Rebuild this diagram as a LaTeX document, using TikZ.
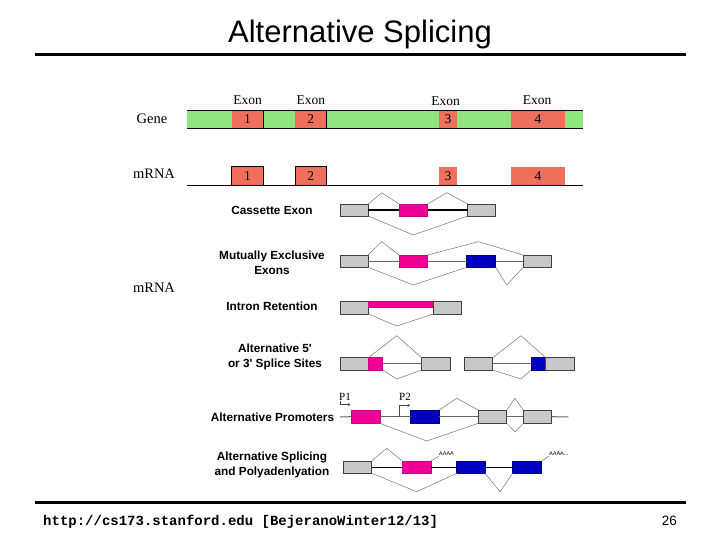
\documentclass[tikz,border=0pt]{standalone}
\usepackage{fontspec}
\setmainfont{Liberation Serif}
\setsansfont{Liberation Sans}
\setmonofont{Liberation Mono}
\newfontfamily\labfont{Liberation Sans}
\usetikzlibrary{arrows.meta}
\definecolor{genegreen}{RGB}{145,228,128}
\definecolor{salmon}{RGB}{238,112,92}
\definecolor{pinkx}{RGB}{240,0,150}
\definecolor{bluex}{RGB}{0,0,190}
\definecolor{boxgrey}{RGB}{200,200,200}
\newcommand\bx[7]{\node[#2, anchor=north west, minimum width={(#5-#3)*1pt}, minimum height={(#6-#4)*1pt}] (#1) at (#3,#4) {#7};}
\tikzset{
  box/.style={inner sep=0pt, outer sep=0pt, line width=0.6pt},
  greyb/.style={box, draw=black!75, fill=boxgrey},
  pinkb/.style={box, draw=pinkx!85!black, fill=pinkx},
  blueb/.style={box, draw=bluex!70!black, fill=bluex},
  exonb/.style={box, fill=salmon, font=\fontsize{13.5}{13.5}\selectfont},
  exonbd/.style={exonb, draw=black},
  splice/.style={draw=black!55, line width=0.5pt},
  bbk/.style={draw=black, line width=1.3pt},
  bgr/.style={draw=black!60, line width=1pt},
  lab/.style={font=\labfont\bfseries\fontsize{11.8}{15}\selectfont, align=center, inner sep=0pt},
  serlab/.style={font=\fontsize{13.5}{13.5}\selectfont, inner sep=0pt},
  promo/.style={font=\fontsize{11}{11}\selectfont, inner sep=0pt, anchor=base west},
  poly/.style={font=\sffamily\fontsize{5.5}{6}\selectfont, inner sep=0pt, anchor=west},
  parrow/.style={draw=black!70, line width=0.5pt, -{Straight Barb[length=2pt,width=3pt]}},
  rule/.style={line width=3pt}
}
\begin{document}
\begin{tikzpicture}[x=1pt,y=-1pt]
\useasboundingbox (0,0) rectangle (720,540);
% title and rules
\node[font=\sffamily\fontsize{31}{31}\selectfont, anchor=base, inner sep=0pt] (title) at (360,43) {Alternative Splicing};
\draw[rule] (35,55) -- (686,55);
\draw[rule] (35,502) -- (686,502);
\node[font=\ttfamily\bfseries\fontsize{14}{14}\selectfont, anchor=base west, inner sep=0pt] (foot) at (43,525) {http://cs173.stanford.edu [BejeranoWinter12/13]};
\node[font=\sffamily\fontsize{13.5}{13.5}\selectfont, anchor=base east, inner sep=0pt] (pnum) at (677,525) {26};

% gene row
\bx{gene}{box, fill=genegreen}{186.7}{110}{582.7}{128}{}
\bx{g1}{exonb}{231.7}{110}{263.3}{128}{1}
\bx{g2}{exonb}{295}{110}{326.7}{128}{2}
\bx{g3}{exonb}{439.3}{110}{456.7}{128}{3}
\bx{g4}{exonb}{511}{110}{565}{128}{4}
\draw[line width=0.8pt] (gene.north west) -- (gene.north east);
\draw[line width=0.8pt] (gene.south west) -- (gene.south east);
\draw[line width=0.8pt] (g1.north east) -- (g1.south east);
\draw[line width=0.8pt] (g2.north east) -- (g2.south east);
\node[serlab] (e1) at (247.5,100) {Exon};
\node[serlab] (e2) at (310.8,100) {Exon};
\node[serlab] (e3) at (445.5,101) {Exon};
\node[serlab] (e4) at (537,100) {Exon};
\node[font=\fontsize{14.5}{14.5}\selectfont, inner sep=0pt] (genel) at (152,119) {Gene};
\node[font=\fontsize{14.5}{14.5}\selectfont, inner sep=0pt] (mrna1) at (154,174) {mRNA};
\node[font=\fontsize{14.5}{14.5}\selectfont, inner sep=0pt] (mrna2) at (154,288) {mRNA};

% mRNA row
\bx{r1}{exonbd}{231.7}{166.7}{263.3}{185}{1}
\bx{r2}{exonbd}{295}{166.7}{326.7}{185}{2}
\bx{r3}{exonb}{439.3}{166.7}{456.7}{185}{3}
\bx{r4}{exonb}{511}{166.7}{565}{185}{4}
\coordinate (rs) at (186.7,185);
\coordinate (re) at (582.7,185);
\draw[line width=0.8pt] (rs) -- (re);

% Cassette exon
\node[lab] (lc) at (272,210) {Cassette Exon};
\bx{c1}{greyb}{340}{204}{368.3}{216}{}
\bx{c2}{pinkb}{399}{204}{427.7}{216}{}
\bx{c3}{greyb}{467.7}{204}{495.7}{216}{}
\draw[bbk] (c1.east) -- (c2.west);
\draw[bbk] (c2.east) -- (c3.west);
\draw[splice] (c1.north east) -- (381.7,192.7) -- (c2.north west);
\draw[splice] (c2.north east) -- (446.7,192.7) -- (c3.north west);
\draw[splice] (c1.south east) -- (413.3,235) -- (c3.south west);

% Mutually exclusive
\node[lab] (lm) at (272,263) {Mutually Exclusive\\Exons};
\bx{m1}{greyb}{340}{255}{368.3}{267.3}{}
\bx{m2}{pinkb}{399}{255}{427.7}{267.3}{}
\bx{m3}{blueb}{466.7}{255}{495.7}{267.3}{}
\bx{m4}{greyb}{523.3}{255}{551.7}{267.3}{}
\draw[bgr] (m1.east) -- (m2.west);
\draw[bgr] (m2.east) -- (m3.west);
\draw[bgr] (m3.east) -- (m4.west);
\draw[splice] (m1.north east) -- (381.7,241.7) -- (m2.north west);
\draw[splice] (m2.north east) -- (478.3,241.7) -- (m4.north west);
\draw[splice] (m1.south east) -- (413.3,285) -- (m3.south west);
\draw[splice] (m3.south east) -- (506.7,285) -- (m4.south west);

% Intron retention
\node[lab] (li) at (272,306) {Intron Retention};
\bx{i1}{greyb}{340}{301.7}{368.3}{314}{}
\bx{i2}{pinkb}{368.3}{301.7}{433.3}{307.3}{}
\bx{i3}{greyb}{433.3}{301.7}{461}{314}{}
\draw[splice] (i1.south east) -- (396.7,326) -- (i3.south west);

% Alternative 5'/3'
\node[lab] (la) at (275,356.5) {Alternative 5'\\or 3' Splice Sites};
\bx{a1}{greyb}{340}{357.7}{368.3}{370}{}
\bx{a2}{pinkb}{368.3}{357.7}{382.7}{370}{}
\bx{a3}{greyb}{421.7}{357.7}{450}{370}{}
\draw[bgr] (a2.east) -- (a3.west);
\draw[splice] (a1.north east) -- (396.7,335.7) -- (a3.north west);
\draw[splice] (a2.south east) -- (396.7,379) -- (a3.south west);
\bx{a4}{greyb}{464}{357.7}{492.7}{370}{}
\bx{a5}{blueb}{531}{357.7}{545.7}{370}{}
\bx{a6}{greyb}{545.7}{357.7}{574}{370}{}
\draw[bgr] (a4.east) -- (a5.west);
\draw[splice] (a4.north east) -- (521,335.7) -- (a6.north west);
\draw[splice] (a4.south east) -- (521,379) -- (a5.south west);

% Alternative promoters
\node[lab] (lp) at (272.5,417) {Alternative Promoters};
\bx{p1}{pinkb}{351.7}{410}{380}{423.3}{}
\bx{p2}{blueb}{410.7}{410}{439.3}{423.3}{}
\bx{p3}{greyb}{478.3}{410}{506.7}{423.3}{}
\bx{p4}{greyb}{523.3}{410}{551.7}{423.3}{}
\coordinate (ps) at (340,417);
\coordinate (pe) at (568.3,417);
\draw[bgr] (ps) -- (p1.west);
\draw[bgr] (p1.east) -- (p2.west);
\draw[bgr] (p2.east) -- (p3.west);
\draw[bgr] (p3.east) -- (p4.west);
\draw[bgr] (p4.east) -- (pe);
\draw[splice] (p2.north east) -- (456.7,398.3) -- (p3.north west);
\draw[splice] (p3.north east) -- (515,398.3) -- (p4.north west);
\draw[splice] (p1.south east) -- (426.7,441) -- (p3.south west);
\draw[splice] (p3.south east) -- (515,431.7) -- (p4.south west);
\node[promo] (P1) at (339,400) {P1};
\node[promo] (P2) at (399,400) {P2};
\coordinate (p1a) at (340,401);
\coordinate (p2a) at (399.3,417);
\draw[parrow] (p1a) -- (340,404.7) -- (350.5,404.7);
\draw[parrow] (p2a) -- (399.3,405.3) -- (410,405.3);

% Alternative splicing and polyadenylation
\node[lab] (lq) at (272,465) {Alternative Splicing\\and Polyadenlyation};
\bx{q1}{greyb}{343.3}{461}{371.7}{473.3}{}
\bx{q2}{pinkb}{402.3}{461}{431}{473.3}{}
\bx{q3}{blueb}{456.7}{461}{485}{473.3}{}
\bx{q4}{blueb}{512.7}{461}{541.7}{473.3}{}
\draw[bbk] (q1.east) -- (q2.west);
\draw[bbk] (q2.east) -- (q3.west);
\draw[bbk] (q3.east) -- (q4.west);
\draw[splice] (q1.north east) -- (386.7,448.3) -- (q2.north west);
\draw[splice] (q1.south east) -- (416.7,491.7) -- (q3.south west);
\draw[splice] (q3.south east) -- (500,491.7) -- (q4.south west);
\node[poly] (pa1) at (439,454) {AAAA};
\node[poly] (pa2) at (549,454) {AAAA...};
\draw[splice] (q2.north east) -- (pa1.south west);
\draw[splice] (q4.north east) -- (pa2.south west);
\end{tikzpicture}
\end{document}
